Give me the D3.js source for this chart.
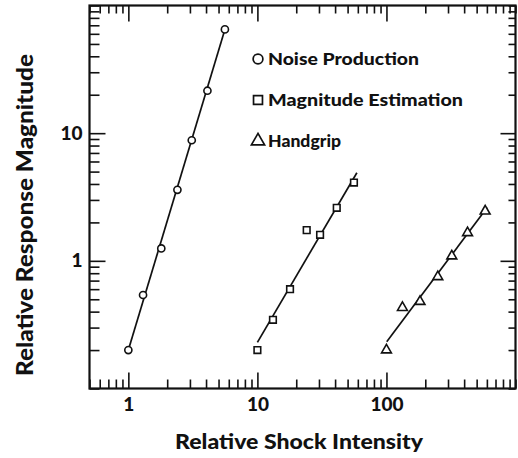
<!DOCTYPE html>
<html>
<head>
<meta charset="utf-8">
<script src="https://cdn.jsdelivr.net/npm/d3@7"></script>
<style>
  body { margin: 0; background: #fff; }
  text { font-family: Lato, "DejaVu Sans", sans-serif; font-weight: 900; fill: #111; }
</style>
</head>
<body>
<div class="chart"></div>
<script>
// Data (log-log plot)
const noiseX = [1, 1.3, 1.8, 2.4, 3.1, 4.1, 5.6];
const noiseY = [0.2, 0.54, 1.25, 3.6, 8.8, 21.5, 65];
const magX = [10, 13.2, 17.9, 24.1, 30.6, 41.2, 56];
const magY = [0.2, 0.345, 0.6, 1.74, 1.6, 2.6, 4.1];
const gripX = [100, 133, 182, 250, 321, 425, 582];
const gripY = [0.2, 0.43, 0.48, 0.75, 1.09, 1.66, 2.45];

// fitted lines (end points)
const noiseFitX = [1, 5.6];
const noiseFitY = [0.2, 65];
const magFitX = [10, 59];
const magFitY = [0.23, 4.9];
const gripFitX = [100.5, 603];
const gripFitY = [0.232, 2.62];

const seriesNames = ["Noise Production", "Magnitude Estimation", "Handgrip"];
const seriesShapes = ["circle", "square", "triangle"];
const xMajor = [1, 10, 100];
const xTickLabels = ["1", "10", "100"];
const yMajor = [1, 10];
const yTickLabels = ["1", "10"];
const xLabel = "Relative Shock Intensity";
const yLabel = "Relative Response Magnitude";

const width = 518, height = 458;
const margin = { left: 89.5, right: 515.5, top: 5.5, bottom: 388.5 };

const svg = d3.select(".chart").append("svg")
    .attr("width", width)
    .attr("height", height);

const x = d3.scaleLog().domain([0.5, 1000]).range([margin.left, margin.right]);
const y = d3.scaleLog().domain([0.1, 100]).range([margin.bottom, margin.top]);

const xMinor = x.ticks().filter(d => !xMajor.includes(d));
const yMinor = y.ticks().filter(d => !yMajor.includes(d));

// Axes: ticks point inward on all four sides
function ticksOnly(axis, vals, size) {
    return axis.tickValues(vals).tickSize(size).tickSizeOuter(0).tickFormat("");
}
const gb = svg.append("g").attr("transform", `translate(0,${margin.bottom})`);
gb.append("g").call(ticksOnly(d3.axisBottom(x), xMinor, -9));
gb.append("g").call(d3.axisBottom(x).tickValues(xMajor).tickSize(-16).tickSizeOuter(0)
    .tickPadding(9).tickFormat((d, i) => xTickLabels[i]));

const gt = svg.append("g").attr("transform", `translate(0,${margin.top})`);
gt.append("g").call(ticksOnly(d3.axisTop(x), xMinor, -8));
gt.append("g").call(ticksOnly(d3.axisTop(x), xMajor, -16));

const gl = svg.append("g").attr("transform", `translate(${margin.left},0)`);
gl.append("g").call(ticksOnly(d3.axisLeft(y), yMinor, -10));
gl.append("g").call(d3.axisLeft(y).tickValues(yMajor).tickSize(-16).tickSizeOuter(0)
    .tickPadding(7).tickFormat((d, i) => yTickLabels[i]));

const gr = svg.append("g").attr("transform", `translate(${margin.right},0)`);
gr.append("g").call(ticksOnly(d3.axisRight(y), yMinor, -7));
gr.append("g").call(ticksOnly(d3.axisRight(y), yMajor, -15));

svg.selectAll(".domain").remove();
svg.selectAll(".tick line").attr("stroke", "#111").attr("stroke-width", 1.6);
svg.selectAll(".tick text")
    .style("font-family", "Lato, sans-serif")
    .style("font-weight", 900)
    .style("font-size", "19px")
    .attr("fill", "#111");

// frame
svg.append("rect")
    .attr("x", margin.left).attr("y", margin.top)
    .attr("width", margin.right - margin.left).attr("height", margin.bottom - margin.top)
    .attr("fill", "none")
    .attr("stroke", "#111")
    .attr("stroke-width", 2.2);

// fitted lines
const line = d3.line().x(d => x(d[0])).y(d => y(d[1]));
[[noiseFitX, noiseFitY], [magFitX, magFitY], [gripFitX, gripFitY]].forEach(([xs, ys]) => {
    svg.append("path")
        .datum(xs.map((v, i) => [v, ys[i]]))
        .attr("d", line)
        .attr("fill", "none")
        .attr("stroke", "#111")
        .attr("stroke-width", 1.7);
});

// markers
const symbols = {
    circle: d3.symbol().type(d3.symbolCircle).size(40),
    square: d3.symbol().type(d3.symbolSquare).size(44),
    triangle: d3.symbol().type(d3.symbolTriangle).size(42)
};
const series = [[noiseX, noiseY], [magX, magY], [gripX, gripY]];
series.forEach(([xs, ys], s) => {
    svg.append("g").selectAll("path")
        .data(xs.map((v, i) => [v, ys[i]]))
        .join("path")
        .attr("transform", d => `translate(${x(d[0])},${y(d[1])})`)
        .attr("d", symbols[seriesShapes[s]])
        .attr("fill", "#fff")
        .attr("stroke", "#111")
        .attr("stroke-width", 1.6);
});

// legend
const legendSym = {
    circle: d3.symbol().type(d3.symbolCircle).size(75),
    square: d3.symbol().type(d3.symbolSquare).size(80),
    triangle: d3.symbol().type(d3.symbolTriangle).size(75)
};
const legendWidths = [151, 195, 73];
const legend = svg.append("g").attr("transform", "translate(258,59)");
seriesNames.forEach((name, i) => {
    legend.append("path")
        .attr("transform", `translate(0,${i * 41})`)
        .attr("d", legendSym[seriesShapes[i]])
        .attr("fill", "#fff")
        .attr("stroke", "#111")
        .attr("stroke-width", 1.7);
    legend.append("text")
        .attr("x", 10)
        .attr("y", i * 41 + 6)
        .attr("textLength", legendWidths[i])
        .attr("lengthAdjust", "spacingAndGlyphs")
        .style("font-size", "16.5px")
        .text(name);
});

// axis titles
svg.append("text")
    .attr("x", 299)
    .attr("y", 449)
    .attr("text-anchor", "middle")
    .attr("textLength", 248)
    .attr("lengthAdjust", "spacingAndGlyphs")
    .style("font-size", "21px")
    .text(xLabel);
svg.append("text")
    .attr("transform", "rotate(-90)")
    .attr("x", -215)
    .attr("y", 33)
    .attr("text-anchor", "middle")
    .attr("textLength", 322)
    .attr("lengthAdjust", "spacingAndGlyphs")
    .style("font-size", "22px")
    .text(yLabel);
</script>
</body>
</html>
